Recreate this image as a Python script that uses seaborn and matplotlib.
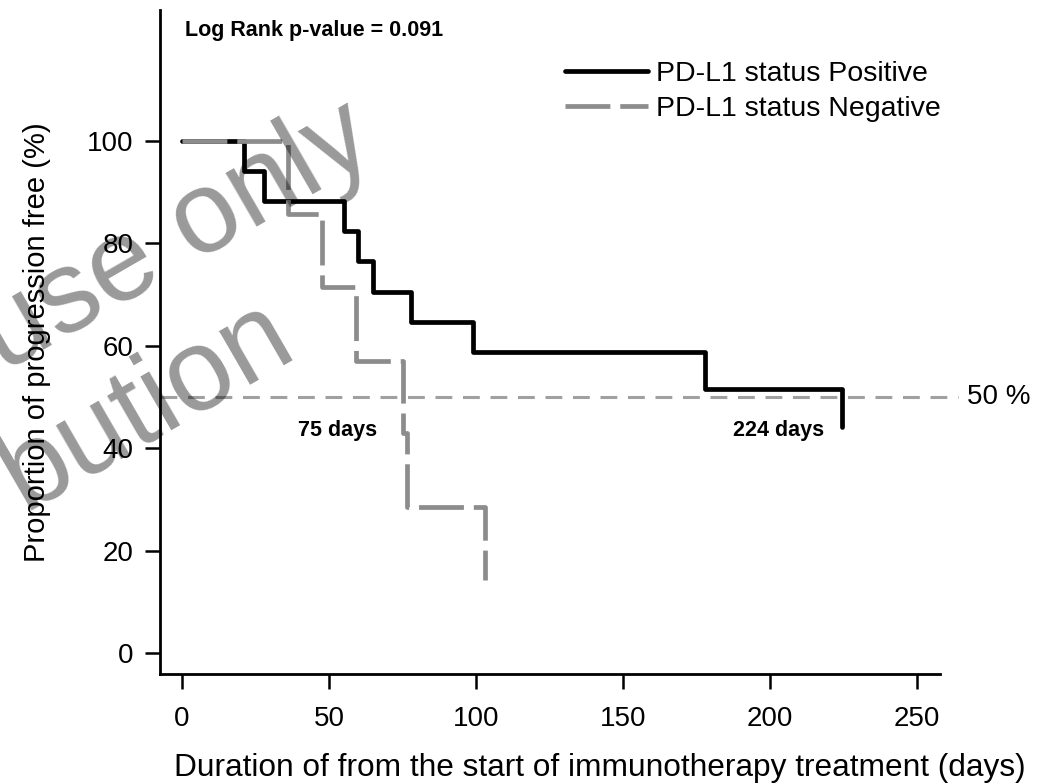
import numpy as np
import pandas as pd
import matplotlib
matplotlib.use("Agg")
import matplotlib.pyplot as plt
import seaborn as sns

# Kaplan-Meier step values
pos_days = [0, 21, 28, 55, 60, 65, 78, 99, 178, 224.5]
pos_surv = [100, 94.1, 88.2, 82.4, 76.5, 70.6, 64.7, 58.8, 51.5, 44.1]
neg_days = [0, 36, 47.5, 59, 75, 76.5, 103]
neg_surv = [100, 85.7, 71.4, 57.1, 42.9, 28.6, 14.3]

groups = ["PD-L1 status Positive", "PD-L1 status Negative"]
x_ticks = [0, 50, 100, 150, 200, 250]
y_ticks = [0, 20, 40, 60, 80, 100]
median_days = [75, 224]

df = pd.concat([
    pd.DataFrame({"day": pos_days, "surv": pos_surv, "group": groups[0]}),
    pd.DataFrame({"day": neg_days, "surv": neg_surv, "group": groups[1]}),
], ignore_index=True)

sns.set_style("ticks")
plt.rcParams["font.family"] = ["Liberation Sans", "DejaVu Sans"]
plt.rcParams["text.color"] = "black"
plt.rcParams["axes.labelcolor"] = "black"
plt.rcParams["xtick.color"] = "black"
plt.rcParams["ytick.color"] = "black"

fig = plt.figure(figsize=(10.58, 7.84), dpi=100)
ax = fig.add_axes([160 / 1058, 110 / 784, 780 / 1058, 664 / 784])

sns.lineplot(data=df, x="day", y="surv", hue="group", style="group",
             hue_order=groups, style_order=groups,
             palette={groups[0]: "black", groups[1]: "#8c8c8c"},
             dashes={groups[0]: "", groups[1]: (9.5, 2.1)},
             drawstyle="steps-post", estimator=None, sort=False,
             linewidth=3.4, ax=ax)

ax.set_xlim(-7.5, 257.8)
ax.set_ylim(-4.1, 125.6)

# 50 % reference line, from the y axis out past the frame
ax.plot([-7.5, 264], [50, 50], color="#a0a0a0", lw=2.2, dashes=(5.5, 3.5),
        clip_on=False, zorder=1)
ax.text(267, 50, "50 %", fontsize=20, va="center", ha="left")

ax.text(53, 43.5, f"{median_days[0]} days", fontsize=15.5, fontweight="bold",
        ha="center", va="center")
ax.text(203, 43.5, f"{median_days[1]} days", fontsize=15.5, fontweight="bold",
        ha="center", va="center")
ax.text(1, 121.5, "Log Rank p-value = 0.091", fontsize=15.5, fontweight="bold",
        ha="left", va="center")

ax.set_xticks(x_ticks)
ax.set_yticks(y_ticks)
ax.set_xticklabels([str(t) for t in x_ticks], fontsize=20)
ax.set_yticklabels([str(t) for t in y_ticks], fontsize=20)
ax.tick_params(axis="both", direction="out", length=11, width=1.8, color="black")
ax.tick_params(axis="x", pad=12)
ax.tick_params(axis="y", pad=8)

sns.despine(ax=ax)
for s in ["left", "bottom"]:
    ax.spines[s].set_linewidth(2)
    ax.spines[s].set_color("black")

ax.set_xlabel("Duration of from the start of immunotherapy treatment (days)",
              fontsize=22.8)
ax.xaxis.set_label_coords(0.564, -0.119)
ax.set_ylabel("Proportion of progression free (%)", fontsize=21)
ax.yaxis.label.set_va("center")
ax.yaxis.set_label_coords(-0.158, 0.5)

handles, labels = ax.get_legend_handles_labels()
leg = ax.legend(handles, labels, loc="upper left", bbox_to_anchor=(565 / 1058, 1 - 61 / 784),
                bbox_transform=fig.transFigure, frameon=False, fontsize=20.5,
                handlelength=2.9, handletextpad=0.3, labelspacing=0.3,
                borderpad=0, borderaxespad=0)
for line in leg.get_lines():
    line.set_linewidth(3.4)

# translucent watermark fragments over the plot
wm = dict(fontsize=84, color="black", alpha=0.4, rotation=30,
          ha="center", va="center", zorder=10)
fig.text(176 / 1058, 1 - 238 / 784, "use only", **wm)
fig.text(146 / 1058, 1 - 405 / 784, "bution", **wm)

fig.savefig("out.png", dpi=100)
